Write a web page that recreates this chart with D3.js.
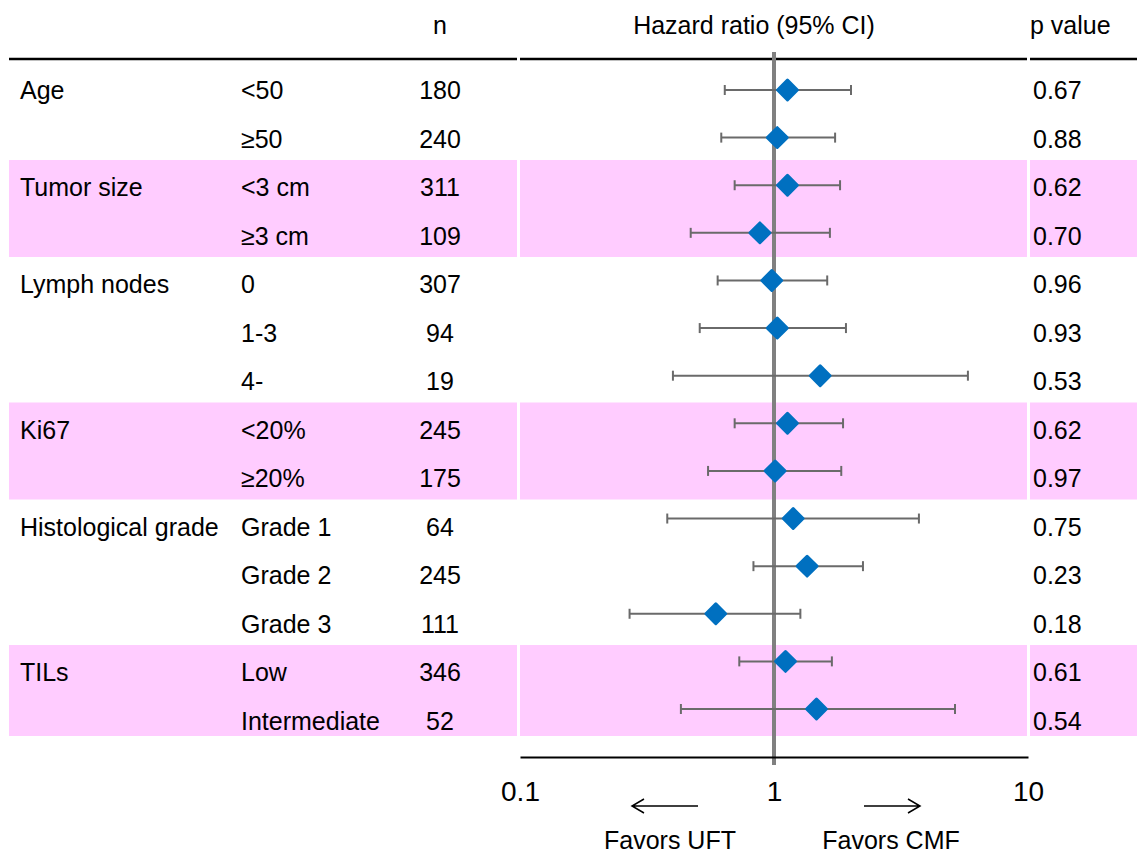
<!DOCTYPE html>
<html>
  <head>
    <script src="https://cdnjs.cloudflare.com/ajax/libs/d3/7.8.5/d3.min.js"></script>
    <meta charset="utf-8">
    <title>Forest plot</title>
    <style>
      body { margin: 0; background: #fff; }
      text { font-family: "Liberation Sans", Arial, sans-serif; fill: #000; }
    </style>
  </head>
  <body>
    <script>
      // data
      var groups = ["Age", "Tumor size", "Lymph nodes", "Ki67", "Histological grade", "TILs"];
      var groupSizes = [2, 2, 3, 2, 3, 2];
      var subgroups = ["<50", "≥50", "<3 cm", "≥3 cm", "0", "1-3", "4-", "<20%", "≥20%",
                       "Grade 1", "Grade 2", "Grade 3", "Low", "Intermediate"];
      var nValues = [180, 240, 311, 109, 307, 94, 19, 245, 175, 64, 245, 111, 346, 52];
      var hr    = [1.13, 1.03, 1.13, 0.88, 0.98, 1.03, 1.52, 1.13, 1.01, 1.19, 1.35, 0.59, 1.11, 1.47];
      var lower = [0.64, 0.62, 0.70, 0.47, 0.60, 0.51, 0.40, 0.70, 0.55, 0.38, 0.83, 0.27, 0.73, 0.43];
      var upper = [2.01, 1.74, 1.82, 1.66, 1.62, 1.92, 5.80, 1.87, 1.84, 3.72, 2.24, 1.27, 1.69, 5.16];
      var pValues = ["0.67", "0.88", "0.62", "0.70", "0.96", "0.93", "0.53", "0.62", "0.97",
                     "0.75", "0.23", "0.18", "0.61", "0.54"];
      var axisTicks = [0.1, 1, 10];

      var width = 1137, height = 854;
      var svg = d3.select("body").append("svg")
                  .attr("width", width)
                  .attr("height", height);

      var x = d3.scaleLog().domain([0.1, 10]).range([520, 1028]);
      var nRows = subgroups.length;
      var tableY = d3.scaleLinear().domain([0, nRows]).range([63, 742]);
      var plotY = d3.scalePoint().domain(d3.range(nRows)).range([90, 709]);

      // table columns (left, plot, right)
      var cols = [[9, 517], [520, 1027], [1030, 1137]];

      // group bands
      var start = 0;
      var bands = groups.map(function (g, i) {
        var b = { name: g, first: start, size: groupSizes[i], shaded: i % 2 == 1 };
        start += groupSizes[i];
        return b;
      });

      bands.filter(function (b) { return b.shaded; }).forEach(function (b) {
        var y0 = tableY(b.first), y1 = Math.min(tableY(b.first + b.size), 736);
        cols.forEach(function (c) {
          svg.append("rect")
             .attr("x", c[0]).attr("width", c[1] - c[0])
             .attr("y", y0)
             .attr("height", y1 - y0)
             .style("fill", "#ffccff");
        });
      });

      // header
      var header = svg.append("g").style("font-size", "25px");
      header.append("text").attr("x", 440).attr("y", 25).attr("dy", "0.35em")
            .attr("text-anchor", "middle").text("n");
      header.append("text").attr("x", 754).attr("y", 25).attr("dy", "0.35em")
            .attr("text-anchor", "middle").text("Hazard ratio (95% CI)");
      header.append("text").attr("x", 1030).attr("y", 25).attr("dy", "0.35em")
            .text("p value");
      cols.forEach(function (c) {
        svg.append("line").attr("x1", c[0]).attr("x2", c[1])
           .attr("y1", 59).attr("y2", 59)
           .style("stroke", "#000").style("stroke-width", 2.5);
      });

      // table text
      var rowMid = function (i) { return (tableY(i) + tableY(i + 1)) / 2 + 3; };
      var table = svg.append("g").style("font-size", "25px");
      table.selectAll(".grp").data(bands).enter().append("text")
           .attr("x", 20).attr("y", function (d) { return rowMid(d.first); })
           .attr("dy", "0.35em").text(function (d) { return d.name; });
      table.selectAll(".sub").data(subgroups).enter().append("text")
           .attr("x", 241).attr("y", function (d, i) { return rowMid(i); })
           .attr("dy", "0.35em").text(function (d) { return d; });
      table.selectAll(".n").data(nValues).enter().append("text")
           .attr("x", 440).attr("y", function (d, i) { return rowMid(i); })
           .attr("dy", "0.35em").attr("text-anchor", "middle").text(function (d) { return d; });
      table.selectAll(".p").data(pValues).enter().append("text")
           .attr("x", 1033).attr("y", function (d, i) { return rowMid(i); })
           .attr("dy", "0.35em").text(function (d) { return d; });

      // reference line
      svg.append("line").attr("x1", x(1)).attr("x2", x(1))
         .attr("y1", 52).attr("y2", 765)
         .style("stroke", "#808080").style("stroke-width", 4);

      // axis
      var axis = svg.append("g").attr("transform", "translate(0,757)")
                    .call(d3.axisBottom(x).tickValues(axisTicks)
                            .tickFormat(function (d) { return d; })
                            .tickSize(0).tickPadding(24));
      axis.select(".domain").style("stroke", "#000").style("stroke-width", 2);
      axis.selectAll("text").style("font-size", "28px")
          .style("font-family", "'Liberation Sans', Arial, sans-serif");

      // confidence intervals
      var rows = d3.range(nRows).map(function (i) {
        return { hr: hr[i], lo: lower[i], hi: upper[i], y: plotY(i) };
      });
      var ci = svg.append("g").style("stroke", "#6a6a6a").style("stroke-width", 2);
      ci.selectAll(".ci").data(rows).enter().append("line")
        .attr("x1", function (d) { return x(d.lo); })
        .attr("x2", function (d) { return x(d.hi); })
        .attr("y1", function (d) { return d.y; })
        .attr("y2", function (d) { return d.y; });
      ["lo", "hi"].forEach(function (k) {
        ci.selectAll(".cap-" + k).data(rows).enter().append("line")
          .attr("x1", function (d) { return x(d[k]); })
          .attr("x2", function (d) { return x(d[k]); })
          .attr("y1", function (d) { return d.y - 5; })
          .attr("y2", function (d) { return d.y + 5; });
      });

      // diamonds
      var diamond = d3.symbol(d3.symbolSquare, 196);
      svg.selectAll(".pt").data(rows).enter().append("path")
         .attr("d", diamond)
         .attr("transform", function (d) { return "translate(" + x(d.hr) + "," + d.y + ") rotate(45)"; })
         .style("fill", "#0070c0").style("stroke", "#0070c0")
         .style("stroke-width", 3).style("stroke-linejoin", "round");

      // favors arrows
      var arr = svg.append("g").style("stroke", "#000").style("stroke-width", 1.5).style("fill", "none");
      arr.append("path").attr("d", "M698,806H632M644,799L632,806L644,813");
      arr.append("path").attr("d", "M864,806H920M908,799L920,806L908,813");
      svg.append("text").attr("x", 670).attr("y", 840).attr("dy", "0.35em")
         .attr("text-anchor", "middle").style("font-size", "25px").text("Favors UFT");
      svg.append("text").attr("x", 891).attr("y", 840).attr("dy", "0.35em")
         .attr("text-anchor", "middle").style("font-size", "25px").text("Favors CMF");
    </script>
  </body>
</html>
